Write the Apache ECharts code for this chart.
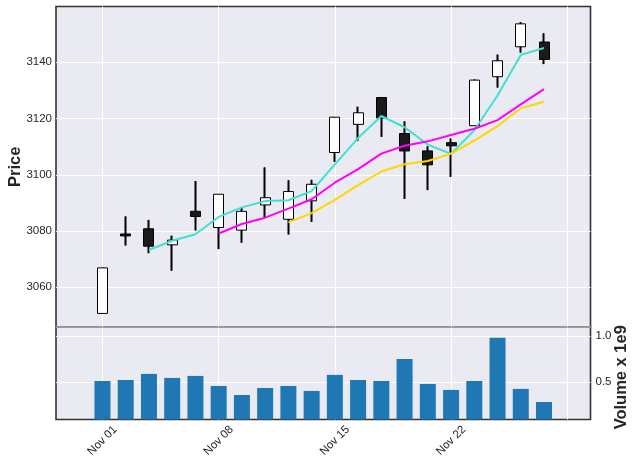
<!DOCTYPE html>
<html><head><meta charset="utf-8">
<script src="https://cdn.jsdelivr.net/npm/echarts@6/dist/echarts.min.js"></script>
<style>html,body{margin:0;padding:0;background:#fff}#c{width:637px;height:465px}</style>
</head><body><div id="c"></div>
<script>
const dates = ['Nov 01','Nov 04','Nov 05','Nov 06','Nov 07','Nov 08','Nov 11','Nov 12','Nov 13','Nov 14',
               'Nov 15','Nov 18','Nov 19','Nov 20','Nov 21','Nov 22','Nov 25','Nov 26','Nov 27','Nov 29'];
const opens  = [3050.72,3078.96,3080.80,3075.10,3087.02,3081.25,3080.33,3089.28,3084.18,3090.75,
                3107.92,3117.91,3127.45,3114.66,3108.49,3111.41,3117.44,3134.85,3145.49,3147.18];
const highs  = [3066.95,3085.20,3083.95,3078.34,3097.77,3093.09,3088.33,3102.61,3098.06,3098.20,
                3120.46,3124.17,3127.64,3118.97,3110.11,3112.87,3133.83,3142.69,3154.26,3150.30];
const lows   = [3050.72,3074.87,3072.15,3065.89,3080.23,3073.58,3075.82,3084.73,3078.80,3083.26,
                3104.60,3112.06,3113.47,3091.41,3094.55,3099.26,3117.44,3131.00,3143.41,3139.34];
const closes = [3066.91,3078.27,3074.62,3076.78,3085.18,3093.08,3087.01,3091.84,3094.04,3096.63,
                3120.46,3122.03,3120.18,3108.46,3103.54,3110.29,3133.64,3140.52,3153.63,3140.98];
const volumes = [514e6,525e6,591e6,547e6,569e6,460e6,362e6,438e6,460e6,406e6,
                 580e6,525e6,514e6,754e6,482e6,417e6,514e6,982e6,428e6,286e6];
const ma3 = [null,null,3073.27,3076.56,3078.86,3085.01,3088.42,3090.64,3090.96,3094.17,
             3103.71,3113.04,3120.89,3116.89,3110.73,3107.43,3115.82,3128.15,3142.60,3145.04];
const ma6 = [null,null,null,null,null,3079.14,3082.49,3084.75,3087.99,3091.30,
             3097.18,3102.00,3107.53,3110.30,3111.88,3114.16,3116.36,3119.44,3125.01,3130.43];
const ma9 = [null,null,null,null,null,null,null,null,3083.08,3086.38,
             3091.07,3096.34,3101.16,3103.75,3104.91,3107.50,3112.14,3117.31,3123.64,3125.92];
const priceTicks = [3060,3080,3100,3120,3140];
const volumeTicks = [0.5e9,1.0e9];
const xTickIdx = [0,5,10,15,20];

const PAD_L = 2, PAD_R = 2;
const cats = [];
for (let i = -PAD_L; i < dates.length + PAD_R; i++) cats.push(i >= 0 && i < dates.length ? dates[i] : '');
const showTick = (idx) => xTickIdx.indexOf(idx - PAD_L) >= 0;

const candleData = dates.map((d, i) => [i + PAD_L, opens[i], closes[i], lows[i], highs[i]]);
const lineData = arr => arr.map((v, i) => v == null ? null : [i + PAD_L, v]).filter(p => p);
const volData = volumes.map((v, i) => [i + PAD_L, v]);

const FONT = "'Liberation Sans', Arial, sans-serif";
const TXT = '#262626';
const chart = echarts.init(document.getElementById('c'));
chart.setOption({
  animation: false,
  textStyle: {fontFamily: FONT},
  grid: [
    {left: 56, top: 6.5, width: 534.5, height: 320.5, show: true, backgroundColor: '#EAEAF2', borderColor: '#333', borderWidth: 1.6,
     containLabel: false, outerBoundsMode: 'none'},
    {left: 56, top: 327, width: 534.5, height: 92.5, show: true, backgroundColor: '#EAEAF2', borderColor: '#333', borderWidth: 1.6,
     containLabel: false, outerBoundsMode: 'none'}
  ],
  xAxis: [
    {gridIndex: 0, type: 'category', data: cats, boundaryGap: false,
     axisLabel: {show: false}, axisTick: {show: false},
     axisLine: {show: true, lineStyle: {color: '#b0b0b0', width: 1.6}}, z: 1,
     splitLine: {show: true, interval: (i) => showTick(i), lineStyle: {color: '#ffffff', width: 1}}},
    {gridIndex: 1, type: 'category', data: cats, boundaryGap: false,
     axisTick: {show: false}, axisLine: {show: false},
     axisLabel: {interval: (i) => showTick(i), rotate: 45, align: 'center', verticalAlign: 'middle',
                 margin: 21, fontSize: 11.5, color: TXT, fontFamily: FONT},
     splitLine: {show: true, interval: (i) => showTick(i), lineStyle: {color: '#ffffff', width: 1}}}
  ],
  yAxis: [
    {gridIndex: 0, type: 'value', min: 3045.9, max: 3159.8, scale: true,
     axisLine: {show: false}, axisTick: {show: false, customValues: priceTicks},
     axisLabel: {customValues: priceTicks, margin: 4, fontSize: 11.5, color: TXT, fontFamily: FONT,
                 formatter: v => String(v)},
     splitLine: {show: true, lineStyle: {color: '#ffffff', width: 1}},
     name: 'Price', nameLocation: 'middle', nameGap: 32, nameMoveOverlap: false,
     nameTextStyle: {fontSize: 16.5, fontWeight: 'bold', color: TXT, fontFamily: FONT}},
    {gridIndex: 1, type: 'value', position: 'right', min: 0.096e9, max: 1.1e9,
     axisLine: {show: false}, axisTick: {show: false, customValues: volumeTicks},
     axisLabel: {customValues: volumeTicks, margin: 5, fontSize: 11.5, color: TXT, fontFamily: FONT,
                 formatter: v => (v / 1e9).toFixed(1)},
     splitLine: {show: true, lineStyle: {color: '#ffffff', width: 1}},
     name: 'Volume x 1e9', nameLocation: 'middle', nameGap: 22, nameMoveOverlap: false,
     nameTextStyle: {fontSize: 16.5, fontWeight: 'bold', color: TXT, fontFamily: FONT, padding: [0, 8, 0, 0]}}
  ],
  series: [
    {type: 'candlestick', xAxisIndex: 0, yAxisIndex: 0, data: candleData, encode: {x: 0, y: [1, 2, 3, 4]},
     barWidth: 0.1, z: 2,
     itemStyle: {color: '#000', color0: '#000', borderColor: '#000', borderColor0: '#000', borderWidth: 2}},
    {type: 'candlestick', xAxisIndex: 0, yAxisIndex: 0, data: candleData, encode: {x: 0, y: [1, 2, 3, 4]},
     barWidth: 10.5, z: 3,
     itemStyle: {color: '#ffffff', color0: '#1a1a1a', borderColor: '#000', borderColor0: '#000', borderWidth: 1}},
    {type: 'line', xAxisIndex: 0, yAxisIndex: 0, data: lineData(ma3), showSymbol: false, symbol: 'none', z: 4,
     lineStyle: {color: '#40e0d0', width: 2}},
    {type: 'line', xAxisIndex: 0, yAxisIndex: 0, data: lineData(ma6), showSymbol: false, symbol: 'none', z: 4,
     lineStyle: {color: '#ff00ff', width: 2}},
    {type: 'line', xAxisIndex: 0, yAxisIndex: 0, data: lineData(ma9), showSymbol: false, symbol: 'none', z: 4,
     lineStyle: {color: '#ffd700', width: 2}},
    {type: 'bar', xAxisIndex: 1, yAxisIndex: 1, data: volData, barWidth: 16, z: 2,
     itemStyle: {color: '#1f77b4'}}
  ]
});
</script></body></html>
